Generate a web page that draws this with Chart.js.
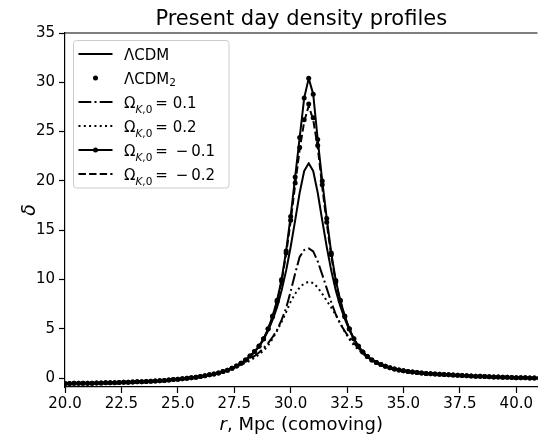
<!DOCTYPE html>
<html lang="en">
<head>
  <meta charset="UTF-8">
  <title>Present day density profiles</title>
  <script src="https://cdn.jsdelivr.net/npm/chart.js"></script>
  <style>
    html, body { margin: 0; padding: 0; background: #fff; }
    #wrap { width: 540px; height: 437px; }
  </style>
</head>
<body>
  <div id="wrap"><canvas id="densityChart" width="540" height="437"></canvas></div>

  <script>
    // comoving radius, Mpc
    const r = [
      20.0, 20.2, 20.4, 20.6, 20.8, 21.0, 21.2, 21.4, 21.6, 21.8,
      22.0, 22.2, 22.4, 22.6, 22.8, 23.0, 23.2, 23.4, 23.6, 23.8,
      24.0, 24.2, 24.4, 24.6, 24.8, 25.0, 25.2, 25.4, 25.6, 25.8,
      26.0, 26.2, 26.4, 26.6, 26.8, 27.0, 27.2, 27.4, 27.6, 27.8,
      28.0, 28.2, 28.4, 28.6, 28.8, 29.0, 29.2, 29.4, 29.6, 29.8,
      30.0, 30.2, 30.4, 30.6, 30.8, 31.0, 31.2, 31.4, 31.6, 31.8,
      32.0, 32.2, 32.4, 32.6, 32.8, 33.0, 33.2, 33.4, 33.6, 33.8,
      34.0, 34.2, 34.4, 34.6, 34.8, 35.0, 35.2, 35.4, 35.6, 35.8,
      36.0, 36.2, 36.4, 36.6, 36.8, 37.0, 37.2, 37.4, 37.6, 37.8,
      38.0, 38.2, 38.4, 38.6, 38.8, 39.0, 39.2, 39.4, 39.6, 39.8,
      40.0, 40.2, 40.4, 40.6, 40.8, 41.0
    ];

    // density contrast delta for each model
    const lcdm = [
      -0.54, -0.54, -0.53, -0.53, -0.52, -0.52, -0.51, -0.50, -0.49, -0.48,
      -0.47, -0.46, -0.45, -0.43, -0.42, -0.40, -0.38, -0.36, -0.34, -0.32,
      -0.29, -0.26, -0.23, -0.19, -0.15, -0.11, -0.07, -0.02, 0.04, 0.10,
      0.17, 0.24, 0.33, 0.42, 0.53, 0.66, 0.81, 0.99, 1.21, 1.49,
      1.84, 2.20, 2.65, 3.20, 3.90, 4.80, 5.90, 7.20, 8.90, 10.9,
      13.3, 16.0, 18.8, 21.0, 21.8, 21.0, 18.8, 16.0, 13.3, 10.9,
      8.90, 7.30, 6.00, 4.90, 3.95, 3.20, 2.62, 2.18, 1.84, 1.57,
      1.37, 1.20, 1.05, 0.93, 0.83, 0.74, 0.68, 0.62, 0.57, 0.52,
      0.48, 0.45, 0.42, 0.39, 0.36, 0.33, 0.31, 0.28, 0.26, 0.24,
      0.22, 0.20, 0.18, 0.16, 0.14, 0.12, 0.11, 0.09, 0.08, 0.06,
      0.05, 0.04, 0.03, 0.02, 0.01, 0.00
    ];
    const lcdm2 = [
      -0.54, -0.54, -0.53, -0.53, -0.52, -0.52, -0.51, -0.50, -0.49, -0.48,
      -0.47, -0.46, -0.45, -0.43, -0.42, -0.40, -0.38, -0.36, -0.34, -0.32,
      -0.29, -0.26, -0.23, -0.19, -0.15, -0.11, -0.07, -0.02, 0.04, 0.10,
      0.17, 0.24, 0.33, 0.42, 0.53, 0.66, 0.81, 0.99, 1.22, 1.50,
      1.85, 2.24, 2.69, 3.23, 3.97, 4.97, 6.22, 7.75, 9.85, 12.7,
      16.0, 19.8, 23.4, 26.2, 27.8, 26.4, 23.6, 19.6, 15.8, 12.5,
      9.75, 7.82, 6.22, 4.97, 3.99, 3.23, 2.64, 2.19, 1.85, 1.58,
      1.37, 1.20, 1.05, 0.93, 0.83, 0.74, 0.68, 0.62, 0.57, 0.52,
      0.48, 0.45, 0.42, 0.39, 0.36, 0.33, 0.31, 0.28, 0.26, 0.24,
      0.22, 0.20, 0.18, 0.16, 0.14, 0.12, 0.11, 0.09, 0.08, 0.06,
      0.05, 0.04, 0.03, 0.02, 0.01, 0.00
    ];
    const omK01 = [
      -0.54, -0.54, -0.53, -0.53, -0.52, -0.52, -0.51, -0.50, -0.49, -0.48,
      -0.47, -0.46, -0.45, -0.43, -0.42, -0.40, -0.38, -0.36, -0.34, -0.32,
      -0.29, -0.26, -0.23, -0.19, -0.15, -0.11, -0.07, -0.02, 0.04, 0.10,
      0.17, 0.24, 0.33, 0.42, 0.53, 0.65, 0.80, 0.98, 1.20, 1.43,
      1.70, 1.95, 2.25, 2.60, 3.05, 3.55, 4.15, 4.90, 5.90, 7.10,
      8.80, 10.6, 12.3, 13.0, 13.15, 12.85, 11.85, 10.5, 9.10, 7.70,
      6.45, 5.50, 4.75, 4.10, 3.55, 3.05, 2.60, 2.20, 1.85, 1.58,
      1.37, 1.20, 1.05, 0.93, 0.83, 0.74, 0.68, 0.62, 0.57, 0.52,
      0.48, 0.45, 0.42, 0.39, 0.36, 0.33, 0.31, 0.28, 0.26, 0.24,
      0.22, 0.20, 0.18, 0.16, 0.14, 0.12, 0.11, 0.09, 0.08, 0.06,
      0.05, 0.04, 0.03, 0.02, 0.01, 0.00
    ];
    const omK02 = [
      -0.54, -0.54, -0.53, -0.53, -0.52, -0.52, -0.51, -0.50, -0.49, -0.48,
      -0.47, -0.46, -0.45, -0.43, -0.42, -0.40, -0.38, -0.36, -0.34, -0.32,
      -0.29, -0.26, -0.23, -0.19, -0.15, -0.11, -0.07, -0.02, 0.04, 0.10,
      0.17, 0.24, 0.33, 0.42, 0.52, 0.64, 0.79, 0.96, 1.18, 1.35,
      1.55, 1.78, 2.05, 2.40, 2.80, 3.30, 4.00, 4.80, 5.70, 6.70,
      7.75, 8.55, 9.20, 9.60, 9.77, 9.65, 9.20, 8.55, 7.85, 7.15,
      6.40, 5.55, 4.70, 3.95, 3.35, 2.88, 2.48, 2.12, 1.82, 1.56,
      1.36, 1.19, 1.05, 0.93, 0.83, 0.74, 0.68, 0.62, 0.57, 0.52,
      0.48, 0.45, 0.42, 0.39, 0.36, 0.33, 0.31, 0.28, 0.26, 0.24,
      0.22, 0.20, 0.18, 0.16, 0.14, 0.12, 0.11, 0.09, 0.08, 0.06,
      0.05, 0.04, 0.03, 0.02, 0.01, 0.00
    ];
    const omKm01 = [
      -0.54, -0.54, -0.53, -0.53, -0.52, -0.52, -0.51, -0.50, -0.49, -0.48,
      -0.47, -0.46, -0.45, -0.43, -0.42, -0.40, -0.38, -0.36, -0.34, -0.32,
      -0.29, -0.26, -0.23, -0.19, -0.15, -0.11, -0.07, -0.02, 0.04, 0.10,
      0.17, 0.24, 0.33, 0.42, 0.53, 0.66, 0.81, 0.99, 1.22, 1.50,
      1.85, 2.25, 2.70, 3.25, 4.00, 5.00, 6.30, 7.90, 10.0, 12.9,
      16.4, 20.4, 24.4, 28.4, 30.4, 28.8, 24.2, 20.0, 16.2, 12.7,
      9.90, 7.90, 6.30, 5.00, 4.00, 3.25, 2.65, 2.20, 1.85, 1.58,
      1.37, 1.20, 1.05, 0.93, 0.83, 0.74, 0.68, 0.62, 0.57, 0.52,
      0.48, 0.45, 0.42, 0.39, 0.36, 0.33, 0.31, 0.28, 0.26, 0.24,
      0.22, 0.20, 0.18, 0.16, 0.14, 0.12, 0.11, 0.09, 0.08, 0.06,
      0.05, 0.04, 0.03, 0.02, 0.01, 0.00
    ];
    const omKm02 = [
      -0.54, -0.54, -0.53, -0.53, -0.52, -0.52, -0.51, -0.50, -0.49, -0.48,
      -0.47, -0.46, -0.45, -0.43, -0.42, -0.40, -0.38, -0.36, -0.34, -0.32,
      -0.29, -0.26, -0.23, -0.19, -0.15, -0.11, -0.07, -0.02, 0.04, 0.10,
      0.17, 0.24, 0.33, 0.42, 0.53, 0.66, 0.81, 0.99, 1.22, 1.50,
      1.85, 2.24, 2.68, 3.22, 3.95, 4.95, 6.20, 7.70, 9.80, 12.6,
      15.9, 19.6, 23.2, 26.0, 27.6, 26.2, 23.4, 19.4, 15.7, 12.4,
      9.70, 7.80, 6.20, 4.95, 3.98, 3.22, 2.63, 2.19, 1.85, 1.58,
      1.37, 1.20, 1.05, 0.93, 0.83, 0.74, 0.68, 0.62, 0.57, 0.52,
      0.48, 0.45, 0.42, 0.39, 0.36, 0.33, 0.31, 0.28, 0.26, 0.24,
      0.22, 0.20, 0.18, 0.16, 0.14, 0.12, 0.11, 0.09, 0.08, 0.06,
      0.05, 0.04, 0.03, 0.02, 0.01, 0.00
    ];

    const xTicks = [20, 22.5, 25, 27.5, 30, 32.5, 35, 37.5, 40];
    const yTicks = [0, 5, 10, 15, 20, 25, 30, 35];

    const chartTitle = 'Present day density profiles';

    // legend labels, split into [text, kind] pieces (kind: n = normal, sub, subi = italic subscript)
    const legendLabels = [
      [['ΛCDM', 'n']],
      [['ΛCDM', 'n'], ['2', 'sub']],
      [['Ω', 'n'], ['K', 'subi'], [',', 'sub'], ['0', 'sub'], ['\u2009= 0.1', 'n']],
      [['Ω', 'n'], ['K', 'subi'], [',', 'sub'], ['0', 'sub'], ['\u2009= 0.2', 'n']],
      [['Ω', 'n'], ['K', 'subi'], [',', 'sub'], ['0', 'sub'], ['\u2009= \u2009\u2212\u20090.1', 'n']],
      [['Ω', 'n'], ['K', 'subi'], [',', 'sub'], ['0', 'sub'], ['\u2009= \u2009\u2212\u20090.2', 'n']]
    ];

    const FONT = '"DejaVu Sans", sans-serif';

    function pts(ys) {
      return r.map((x, i) => ({ x: x, y: ys[i] }));
    }

    // matplotlib-like line style
    function series(ys, dash, radius, showLine) {
      return {
        data: pts(ys),
        borderColor: '#000',
        backgroundColor: '#000',
        borderWidth: 2,
        borderDash: dash,
        borderCapStyle: 'butt',
        borderJoinStyle: 'round',
        pointRadius: radius,
        pointHoverRadius: radius,
        pointBorderWidth: 0,
        pointBackgroundColor: '#000',
        showLine: showLine,
        tension: 0,
        fill: false
      };
    }

    const datasets = [
      series(lcdm, [], 0, true),
      series(lcdm2, [], 2.5, false),
      series(omK01, [12.8, 3.2, 2, 3.2], 0, true),
      series(omK02, [2, 3.3], 0, true),
      series(omKm01, [], 2.5, true),
      series(omKm02, [7.4, 3.2], 0, true)
    ];
    // later series on top, like matplotlib
    datasets.forEach((ds, i) => { ds.order = datasets.length - 1 - i; });

    // title over the axes, top spine, x label with italic r, and the legend box
    const extras = {
      id: 'extras',
      afterDatasetsDraw(chart) {
        const ctx = chart.ctx;
        const a = chart.chartArea;
        const cx = (a.left + a.right) / 2;
        ctx.save();

        ctx.strokeStyle = '#000';
        ctx.lineWidth = 1.2;
        ctx.beginPath();
        ctx.moveTo(a.left, a.top);
        ctx.lineTo(a.right, a.top);
        ctx.stroke();

        ctx.fillStyle = '#000';
        ctx.textBaseline = 'alphabetic';
        ctx.textAlign = 'center';
        ctx.font = '21px ' + FONT;
        ctx.fillText(chartTitle, cx, 25);

        // x axis label
        ctx.textAlign = 'left';
        ctx.font = 'italic 18px ' + FONT;
        const w1 = ctx.measureText('r').width;
        ctx.font = '18px ' + FONT;
        const w2 = ctx.measureText(', Mpc (comoving)').width;
        const x0 = cx - (w1 + w2) / 2;
        ctx.font = 'italic 18px ' + FONT;
        ctx.fillText('r', x0, 430);
        ctx.font = '18px ' + FONT;
        ctx.fillText(', Mpc (comoving)', x0 + w1, 430);

        // legend
        const bx = 73.5, by = 40.5, bw = 155.5, bh = 147.5;
        ctx.beginPath();
        if (ctx.roundRect) ctx.roundRect(bx, by, bw, bh, 3);
        else ctx.rect(bx, by, bw, bh);
        ctx.fillStyle = 'rgba(255,255,255,0.8)';
        ctx.fill();
        ctx.strokeStyle = '#cccccc';
        ctx.lineWidth = 1;
        ctx.stroke();

        chart.data.datasets.forEach((ds, i) => {
          const y = 54 + i * 24;
          if (ds.showLine) {
            ctx.beginPath();
            ctx.setLineDash(ds.borderDash);
            ctx.lineCap = 'butt';
            ctx.lineWidth = ds.borderWidth;
            ctx.strokeStyle = '#000';
            ctx.moveTo(78.5, y);
            ctx.lineTo(112.5, y);
            ctx.stroke();
            ctx.setLineDash([]);
          }
          if (ds.pointRadius > 0) {
            ctx.beginPath();
            ctx.arc(95.5, y, ds.pointRadius, 0, Math.PI * 2);
            ctx.fillStyle = '#000';
            ctx.fill();
          }
          let x = 124;
          ctx.fillStyle = '#000';
          legendLabels[i].forEach(([txt, kind]) => {
            let dy = 0;
            if (kind === 'n') ctx.font = '15px ' + FONT;
            else if (kind === 'sub') ctx.font = '10.5px ' + FONT;
            else ctx.font = 'italic 10.5px ' + FONT;
            if (kind !== 'n') dy = (i === 1) ? 2.5 : 5;
            ctx.fillText(txt, x, y + 5.5 + dy);
            x += ctx.measureText(txt).width;
          });
        });
        ctx.restore();
      }
    };

    const ctx = document.getElementById('densityChart').getContext('2d');
    const densityChart = new Chart(ctx, {
      type: 'line',
      data: { datasets: datasets },
      options: {
        responsive: false,
        animation: false,
        devicePixelRatio: 1,
        layout: { padding: { top: 33, left: 0, right: 0, bottom: 0 } },
        plugins: {
          legend: { display: false },
          tooltip: { enabled: false },
          title: { display: false }
        },
        scales: {
          x: {
            type: 'linear',
            min: 20,
            max: 40.94,
            afterBuildTicks: s => { s.ticks = xTicks.map(v => ({ value: v })); },
            afterFit: s => { s.height = 50; },
            ticks: {
              callback: v => v.toFixed(1),
              color: '#000',
              font: { family: FONT, size: 15 },
              padding: 2,
              maxRotation: 0,
              autoSkip: false
            },
            grid: { display: true, drawOnChartArea: false, drawTicks: true, tickLength: 6, tickWidth: 1.2, tickColor: '#000' },
            border: { display: true, color: '#000', width: 1.2 }
          },
          y: {
            type: 'linear',
            min: -0.9,
            max: 35,
            afterBuildTicks: s => { s.ticks = yTicks.map(v => ({ value: v })); },
            afterFit: s => { s.width = 65; },
            ticks: {
              color: '#000',
              font: { family: FONT, size: 15 },
              padding: 4,
              autoSkip: false
            },
            grid: { display: true, drawOnChartArea: false, drawTicks: true, tickLength: 6, tickWidth: 1.2, tickColor: '#000' },
            border: { display: true, color: '#000', width: 1.2 },
            title: {
              display: true,
              text: 'δ',
              color: '#000',
              font: { family: FONT, size: 19, style: 'italic' },
              padding: { top: 19, bottom: 0 }
            }
          }
        }
      },
      plugins: [extras]
    });
  </script>
</body>
</html>
